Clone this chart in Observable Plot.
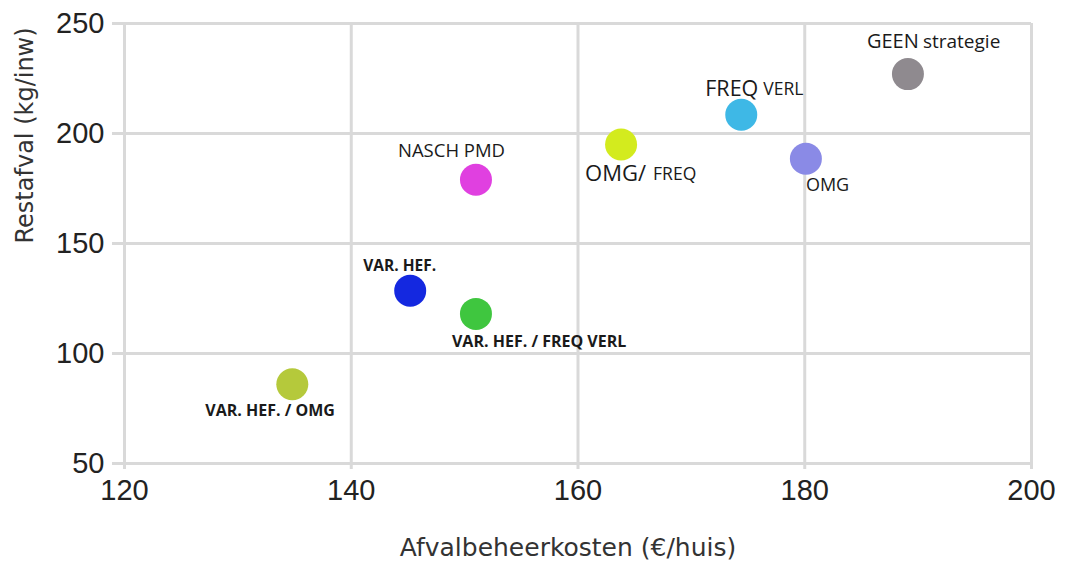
<!DOCTYPE html>
<html>
<head>
<meta charset="utf-8">
<script src="https://cdn.jsdelivr.net/npm/d3@7"></script>
<script src="https://cdn.jsdelivr.net/npm/@observablehq/plot@0.6"></script>
<style>
  html, body { margin: 0; padding: 0; background: #fff; }
</style>
</head>
<body>
<div id="chart"></div>
<script>
// Data
const strategies = ["VAR. HEF. / OMG", "VAR. HEF.", "VAR. HEF. / FREQ VERL", "NASCH PMD", "OMG/ FREQ", "FREQ VERL", "OMG", "GEEN strategie"];
const costs = [134.8, 145.2, 151.0, 151.0, 163.8, 174.4, 180.1, 189.1];        // €/huis
const residual = [86, 128.5, 118, 179, 195, 208.5, 188.5, 227];               // kg/inw
const colors = ["#b5c93b", "#1428e0", "#3fc63f", "#e040e0", "#d3eb1e", "#3eb8e6", "#8a8ae6", "#8f8a8f"];
const xTicks = [120, 140, 160, 180, 200];
const yTicks = [50, 100, 150, 200, 250];

const data = strategies.map((s, i) => ({name: s, x: costs[i], y: residual[i], color: colors[i]}));

const tickFont = "Liberation Sans, Arial, sans-serif";
const labelFont = "Open Sans, sans-serif";
const titleFont = "'DejaVu Sans', sans-serif";
const grid = "#d9d9d9";

// label pieces: [strategy index, text, dx, dy, fontSize, fontWeight]
const pieces = [
  [0, "VAR. HEF. / OMG", -87, 27, 16, "bold"],
  [1, "VAR. HEF.", -47, -25, 15.5, "bold"],
  [2, "VAR. HEF. / FREQ VERL", -24, 28, 16, "bold"],
  [3, "NASCH PMD", -78, -29, 18.5, "normal"],
  [4, "OMG/", -36, 29, 22, "normal"],
  [4, "FREQ", 32, 30, 17.5, "normal"],
  [5, "FREQ", -36, -26, 21.5, "normal"],
  [5, "VERL", 22, -25, 17.5, "normal"],
  [6, "OMG", 0, 26, 18, "normal"],
  [7, "GEEN", -41, -33, 20, "normal"],
  [7, "strategie", 15, -32, 19, "normal"]
];

const labelMarks = pieces.map(([i, t, dx, dy, fs, fw]) =>
  Plot.text([data[i]], {
    x: "x", y: "y", text: () => t, dx, dy,
    textAnchor: "start", fontSize: fs, fontWeight: fw,
    fontFamily: labelFont, fill: "#1a1a1a"
  })
);

const chart = Plot.plot({
  width: 1065,
  height: 565,
  marginLeft: 124,
  marginRight: 34,
  marginTop: 23,
  marginBottom: 102,
  x: {domain: [120, 200]},
  y: {domain: [50, 250]},
  color: {type: "identity"},
  style: {background: "#fff", overflow: "visible"},
  marks: [
    Plot.gridX(xTicks, {stroke: grid, strokeOpacity: 1, strokeWidth: 3}),
    Plot.gridY(yTicks, {stroke: grid, strokeOpacity: 1, strokeWidth: 3}),
    Plot.axisX(xTicks, {tickSize: 6, stroke: grid, strokeWidth: 3, tickPadding: 10, fontSize: 29, fontFamily: tickFont, fill: "#222", label: null}),
    Plot.axisY(yTicks, {tickSize: 12, stroke: grid, strokeWidth: 3, tickPadding: 8, fontSize: 29, fontFamily: tickFont, fill: "#222", label: null}),
    Plot.dot(data, {x: "x", y: "y", r: 16, fill: "color", stroke: null}),
    ...labelMarks,
    Plot.text(["Afvalbeheerkosten (€/huis)"], {frameAnchor: "bottom", dy: 92, dx: -10, fontSize: 25, fontFamily: titleFont, fill: "#333"}),
    Plot.text(["Restafval (kg/inw)"], {frameAnchor: "left", rotate: -90, dx: -99, fontSize: 24, fontFamily: titleFont, fill: "#333"})
  ]
});

document.getElementById("chart").appendChild(chart);
</script>
</body>
</html>
